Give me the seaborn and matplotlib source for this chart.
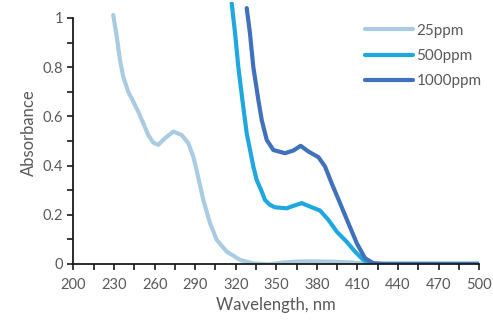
from matplotlib import pyplot as plt
from matplotlib import ticker as ticker
import pandas as pd
import seaborn as sns

sns.set_style('white')
plt.rcParams['font.family'] = ['Lato', 'DejaVu Sans']

# wavelength (nm) / absorbance
wl_25 = [229.4, 232, 234.4, 236.8, 240.5, 244.2, 247.9, 251.6, 255.3, 259, 262.7, 267.7, 273.8, 280, 284.9, 288.6,
         291.1, 296, 301, 305.9, 313.3, 323.2, 333, 345, 355, 368, 380, 392, 405, 420, 440, 470, 500]
abs_25 = [1.012, 0.924, 0.829, 0.761, 0.70, 0.66, 0.619, 0.572, 0.524, 0.493, 0.484, 0.511, 0.538, 0.524, 0.491, 0.436,
          0.380, 0.26, 0.165, 0.098, 0.05, 0.016, 0.002, -0.002, 0.006, 0.01, 0.01, 0.009, 0.006, 0.0, 0.0, 0.0, 0.0]

wl_500 = [317, 319.5, 321.9, 324.9, 328.1, 333, 335.5, 339.2, 341.6, 345.3, 349, 357.7, 362.6, 368.8, 374.9, 382.3,
          388.5, 394.7, 402, 408.2, 414.3, 420.6, 440, 470, 500]
abs_500 = [1.06, 0.938, 0.80, 0.667, 0.531, 0.396, 0.341, 0.294, 0.26, 0.24, 0.23, 0.226, 0.236, 0.247, 0.233, 0.217,
           0.179, 0.131, 0.09, 0.05, 0.016, 0.0, 0.0, 0.0, 0.0]

wl_1000 = [328.1, 330.5, 333, 336.7, 339.2, 342.9, 347.8, 356.4, 362.6, 368, 373.7, 381.1, 386, 390.9, 397.1, 403.3,
           409.5, 415.6, 421.7, 429, 440, 470, 500]
abs_1000 = [1.04, 0.938, 0.80, 0.667, 0.585, 0.504, 0.463, 0.45, 0.461, 0.48, 0.457, 0.434, 0.396, 0.328, 0.247, 0.165,
            0.084, 0.023, 0.003, 0.0, 0.0, 0.0, 0.0]

series = ['25ppm', '500ppm', '1000ppm']
colors = ['#A9CCE3', '#1FA8E0', '#4071BC']
x_ticks = [200, 230, 260, 290, 320, 350, 380, 410, 440, 470, 500]
y_ticks = [0, 0.2, 0.4, 0.6, 0.8, 1]

df = pd.concat([
    pd.DataFrame({'Wavelength': wl_25, 'Absorbance': abs_25, 'sample': '25ppm'}),
    pd.DataFrame({'Wavelength': wl_500, 'Absorbance': abs_500, 'sample': '500ppm'}),
    pd.DataFrame({'Wavelength': wl_1000, 'Absorbance': abs_1000, 'sample': '1000ppm'}),
])

fig = plt.figure(figsize=(4.93, 3.23), dpi=100)
ax = fig.add_axes([0.149, 0.183, 0.823, 0.811])

sns.lineplot(x='Wavelength', y='Absorbance', hue='sample', hue_order=series,
             palette=colors, data=df, ax=ax, linewidth=3, sort=False,
             solid_capstyle='round', solid_joinstyle='round')

ax.set(xlim=(200, 500), ylim=(0, 1.065))
ax.xaxis.set_major_locator(ticker.FixedLocator(x_ticks))
ax.xaxis.set_minor_locator(ticker.FixedLocator([v + 15 for v in x_ticks[:-1]]))
ax.yaxis.set_major_locator(ticker.FixedLocator(y_ticks))
ax.yaxis.set_minor_locator(ticker.FixedLocator([v + 0.1 for v in y_ticks[:-1]]))
ax.yaxis.set_major_formatter(ticker.FuncFormatter(lambda v, p: '{:g}'.format(round(v, 1))))

for s in ['top', 'right']:
    ax.spines[s].set_visible(False)
ax.spines['left'].set_bounds(0, 1)
for s in ['left', 'bottom']:
    ax.spines[s].set_color('#1a1a1a')
    ax.spines[s].set_linewidth(1.3)

ax.tick_params(which='both', direction='out', length=4, width=1.2, color='#1a1a1a',
               labelcolor='#595959', labelsize=10.5, bottom=True, left=True)
ax.tick_params(axis='x', pad=6)

ax.set_xlabel('Wavelength, nm', color='#595959', fontsize=12)
ax.set_ylabel('Absorbance', color='#595959', fontsize=12)

leg = ax.legend(loc='upper right', bbox_to_anchor=(1.04, 0.97), frameon=False,
                handlelength=3.2, handletextpad=0.2, labelspacing=0.75, fontsize=11)
for t in leg.get_texts():
    t.set_color('#595959')

plt.savefig('out.png', dpi=100)
